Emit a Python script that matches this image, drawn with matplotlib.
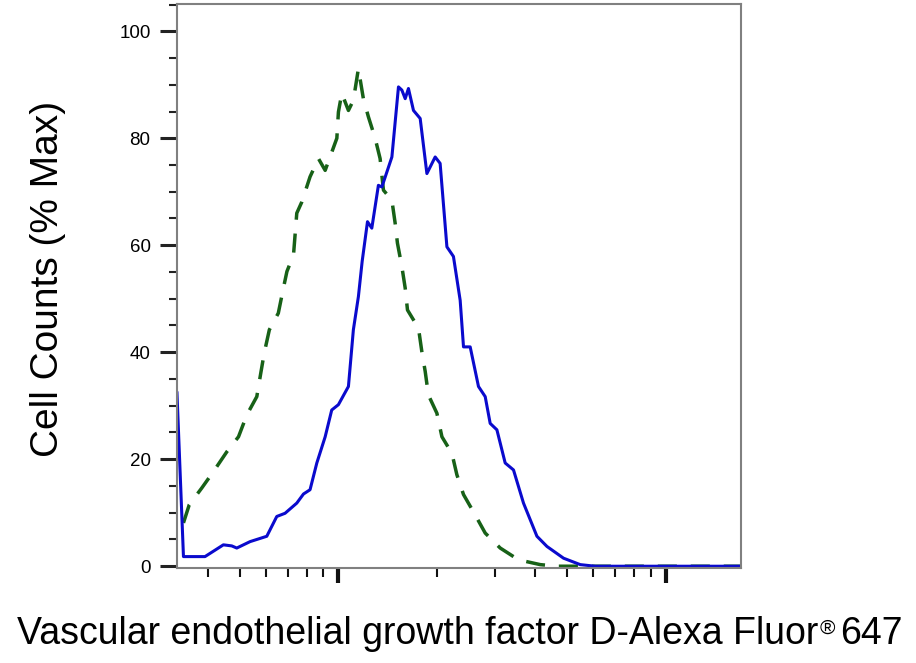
import matplotlib

matplotlib.use("Agg")
import matplotlib.pyplot as plt
from matplotlib.ticker import FixedLocator, MultipleLocator, NullFormatter

# fluorescence intensity (arbitrary units, log axis) and % of max counts
stained_x = [321, 336, 391, 445, 472, 489, 537, 604, 648, 687, 746, 782, 819, 859,
             911, 954, 1000, 1073, 1111, 1151, 1182, 1227, 1265, 1325, 1358, 1457,
             1526, 1563, 1600, 1637, 1696, 1778, 1864, 1976, 2046, 2146, 2247, 2356,
             2412, 2528, 2680, 2810, 2910, 3051, 3234, 3429, 3679, 4044, 4339, 4877,
             5485, 6095, 17000]
stained_y = [32.4, 1.8, 1.8, 4.0, 3.8, 3.4, 4.6, 5.6, 9.3, 9.9, 11.8, 13.5, 14.3, 19.3,
             24.2, 29.2, 30.2, 33.6, 44.2, 50.4, 57.0, 64.4, 63.2, 71.2, 70.9, 76.5,
             89.6, 89.0, 87.4, 89.3, 85.2, 83.7, 73.4, 76.5, 75.3, 59.7, 57.9, 49.7,
             41.0, 41.0, 33.6, 31.7, 26.7, 25.5, 19.3, 18.0, 11.8, 5.6, 3.7, 1.5,
             0.3, 0.0, 0.0]

control_x = [336, 350, 382, 415, 456, 495, 525, 563, 579, 593, 615, 655, 679, 696,
             729, 737, 746, 773, 819, 869, 911, 989, 1000, 1024, 1073, 1111, 1151,
             1192, 1235, 1295, 1341, 1373, 1457, 1491, 1515, 1563, 1600, 1626, 1757,
             1799, 1842, 1884, 2000, 2072, 2223, 2302, 2412, 2618, 2810, 3123, 3552,
             4139, 4655, 17000]
control_y = [8.1, 11.5, 14.6, 17.7, 21.4, 24.2, 28.3, 31.7, 36.1, 39.8, 44.2, 47.3,
             52.0, 55.1, 58.2, 61.9, 66.0, 68.1, 72.8, 76.2, 74.0, 80.0, 84.9, 88.4,
             85.2, 87.1, 93.0, 87.4, 84.0, 80.0, 76.2, 70.3, 68.4, 64.1, 60.4, 56.0,
             52.0, 47.9, 44.5, 40.1, 36.4, 32.0, 28.6, 24.2, 21.1, 17.1, 13.4, 9.6,
             6.2, 3.4, 1.2, 0.3, 0.0, 0.0]

x_major = [1000, 10000]
x_minor = [400, 500, 600, 700, 800, 900, 2000, 3000, 4000, 5000, 6000, 7000, 8000, 9000]
y_major = [0, 20, 40, 60, 80, 100]

plt.rcParams["font.family"] = ["Liberation Sans", "DejaVu Sans"]

fig = plt.figure(figsize=(9.16, 6.63), dpi=100)
ax = fig.add_axes([0.1932, 0.1433, 0.6157, 0.8507])

ax.plot(control_x, control_y, color="#176117", linewidth=2.5,
        linestyle=(0, (5.5, 4)), solid_capstyle="butt")
ax.plot(stained_x, stained_y, color="#0a0acd", linewidth=2.2)

ax.set_xscale("log")
ax.set_xlim(321, 17000)
ax.set_ylim(-0.33, 105.1)

ax.xaxis.set_major_locator(FixedLocator(x_major))
ax.xaxis.set_minor_locator(FixedLocator(x_minor))
ax.xaxis.set_major_formatter(NullFormatter())
ax.xaxis.set_minor_formatter(NullFormatter())
ax.yaxis.set_major_locator(FixedLocator(y_major))
ax.yaxis.set_minor_locator(MultipleLocator(5))

for spine in ax.spines.values():
    spine.set_color("#808080")
    spine.set_linewidth(1.5)

ax.tick_params(axis="y", which="major", direction="out", length=12, width=2.2,
               color="#222222", labelsize=13.5, pad=7)
ax.tick_params(axis="y", which="minor", direction="out", length=5.8, width=1.5,
               color="#222222")
ax.tick_params(axis="x", which="major", direction="out", length=11, width=3,
               color="#111111")
ax.tick_params(axis="x", which="minor", direction="out", length=6.5, width=1.5,
               color="#111111")

fig.text(48 / 916, 0.58, "Cell Counts (% Max)", rotation=90, ha="center",
         va="center", fontsize=28)

main = fig.text(17 / 916, 1 - 644 / 663, "Vascular endothelial growth factor D-Alexa Fluor",
                ha="left", va="baseline", fontsize=27)
ax.annotate("®", xy=(1, 0), xycoords=main, xytext=(1, 10),
            textcoords="offset points", ha="left", va="bottom", fontsize=15,
            annotation_clip=False)
ax.annotate("647", xy=(1, 0), xycoords=main, xytext=(16, 0),
            textcoords="offset points", ha="left", va="bottom", fontsize=27,
            annotation_clip=False)

fig.savefig("out.png", dpi=100)
